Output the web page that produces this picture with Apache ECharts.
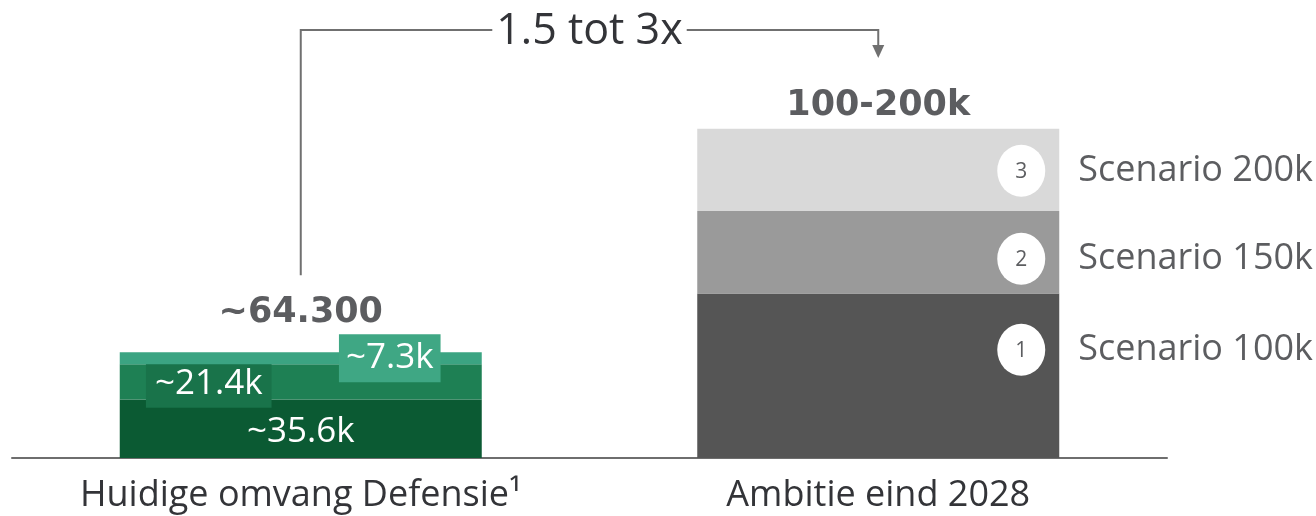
<!DOCTYPE html>
<html>
<head>
<meta charset="utf-8">
<script src="https://cdn.jsdelivr.net/npm/echarts@6/dist/echarts.min.js"></script>
<style>
html,body{margin:0;padding:0;background:#fff;}
#c{width:1316px;height:516px;}
</style>
</head>
<body>
<div id="c"></div>
<script>
// ---- data ----
const categories = ['Huidige omvang Defensie\u00b9', 'Ambitie eind 2028'];
const greenSegments = [35.6, 21.4, 7.3];            // current workforce split (k)
const greenLabels = ['~35.6k', '~21.4k', '~7.3k'];
const scenarioSegments = [100, 50, 50];             // scenario steps (k)
const scenarioTotals = [100, 150, 200];
const scenarioNames = ['Scenario 100k', 'Scenario 150k', 'Scenario 200k'];
const scenarioNumbers = ['1', '2', '3'];
const scenarioMarkers = [65.7, 121, 174.5];         // y-values of marker circles (k)
const totals = [64.3, 200];
const totalLabels = ['~64.300', '100-200k'];
const growthText = '1.5 tot 3x';
const bracketStart = 111, bracketLevel = 260, arrowTip = 243;

const FONT = 'Open Sans';
const BOLD_FONT = 'DejaVu Sans';
const TEXT = '#333438';
const greenColors = ['#0b5a33', '#1e8054', '#3ba482'];
const greenBoxColors = [null, '#19734a', '#3fa784'];
const greyColors = ['#555555', '#9a9a9a', '#d9d9d9'];
const greenOffsets = [[0, 3], [-92, 2], [89, 0]];
const greenPadding = [0, [5, 9], [5, 7]];

const chart = echarts.init(document.getElementById('c'), null, {renderer: 'canvas'});

const series = [];
greenSegments.forEach((v, i) => {
  series.push({
    type: 'bar', stack: 'a', barWidth: 362,
    data: [v, '-'],
    itemStyle: {color: greenColors[i]},
    label: {
      show: true, position: 'inside', formatter: greenLabels[i],
      color: '#fff', fontSize: 35, lineHeight: 38, fontFamily: FONT,
      offset: greenOffsets[i],
      backgroundColor: greenBoxColors[i] || 'transparent',
      padding: greenPadding[i]
    },
    z: 2 + i
  });
});
scenarioSegments.forEach((v, i) => {
  series.push({
    type: 'bar', stack: 'a', barWidth: 362,
    data: ['-', v],
    itemStyle: {color: greyColors[i]},
    label: {show: false}
  });
});
// totals above bars
series.push({
  type: 'scatter', symbolSize: 0,
  data: totals.map((t, k) => ({
    value: [categories[k], t],
    label: {offset: [0, k === 0 ? -22 : -5]}
  })),
  label: {
    show: true, position: 'top',
    formatter: p => totalLabels[p.dataIndex],
    fontSize: 35, fontWeight: 'bold', fontFamily: BOLD_FONT, color: TEXT,
    distance: 0
  },
  z: 10
});
// scenario markers (white circles)
series.push({
  type: 'scatter', symbol: 'circle', symbolSize: [48, 52],
  symbolOffset: [143, 0],
  itemStyle: {color: '#ffffff', opacity: 1},
  data: scenarioMarkers.map(v => [categories[1], v]),
  label: {show: false},
  z: 10
});
// numbers inside circles
series.push({
  type: 'scatter', symbolSize: 0,
  data: scenarioMarkers.map(v => [categories[1], v]),
  label: {
    show: true, position: 'inside', offset: [143, 1],
    formatter: p => scenarioNumbers[p.dataIndex],
    fontSize: 21, fontFamily: FONT, color: TEXT
  },
  z: 11
});
series.push({
  type: 'scatter', symbolSize: 0,
  data: scenarioMarkers.map(v => [categories[1], v]),
  label: {
    show: true, position: 'right', offset: [200, 0], distance: 0,
    formatter: p => scenarioNames[p.dataIndex],
    fontSize: 36, fontFamily: FONT, color: TEXT
  },
  z: 10
});

chart.setOption({
  animation: false,
  grid: {left: 12, right: 149, top: 30, bottom: 58},
  xAxis: {
    type: 'category', data: categories,
    axisLine: {lineStyle: {color: '#6e6e6e', width: 2}},
    axisTick: {show: false},
    axisLabel: {fontSize: 36, fontFamily: FONT, color: TEXT, margin: 20}
  },
  yAxis: {type: 'value', min: 0, max: 260, show: false, splitLine: {show: false}},
  series: series
});

// bracket annotation from data positions
const pStart = chart.convertToPixel({xAxisIndex: 0, yAxisIndex: 0}, [categories[0], bracketStart]);
const pTop = chart.convertToPixel({xAxisIndex: 0, yAxisIndex: 0}, [categories[0], bracketLevel]);
const pRight = chart.convertToPixel({xAxisIndex: 0, yAxisIndex: 0}, [categories[1], bracketLevel]);
const pTip = chart.convertToPixel({xAxisIndex: 0, yAxisIndex: 0}, [categories[1], arrowTip]);
const midX = (pTop[0] + pRight[0]) / 2;
chart.setOption({
  graphic: [
    {type: 'polyline', shape: {points: [[pStart[0], pStart[1]], [pTop[0], pTop[1]], [pRight[0], pRight[1]], [pRight[0], pTip[1] - 12]]},
     style: {stroke: '#707070', lineWidth: 2, fill: null}, z: 20},
    {type: 'polygon', shape: {points: [[pRight[0] - 6, pTip[1] - 13], [pRight[0] + 6, pTip[1] - 13], [pRight[0], pTip[1]]]},
     style: {fill: '#707070'}, z: 20},
    {type: 'text', x: midX, y: pTop[1] + 2, z: 21,
     style: {text: growthText, fontSize: 43, fontFamily: FONT, fill: TEXT, align: 'center', verticalAlign: 'middle',
             backgroundColor: '#ffffff', padding: [0, 4]}}
  ]
});
</script>
</body>
</html>
